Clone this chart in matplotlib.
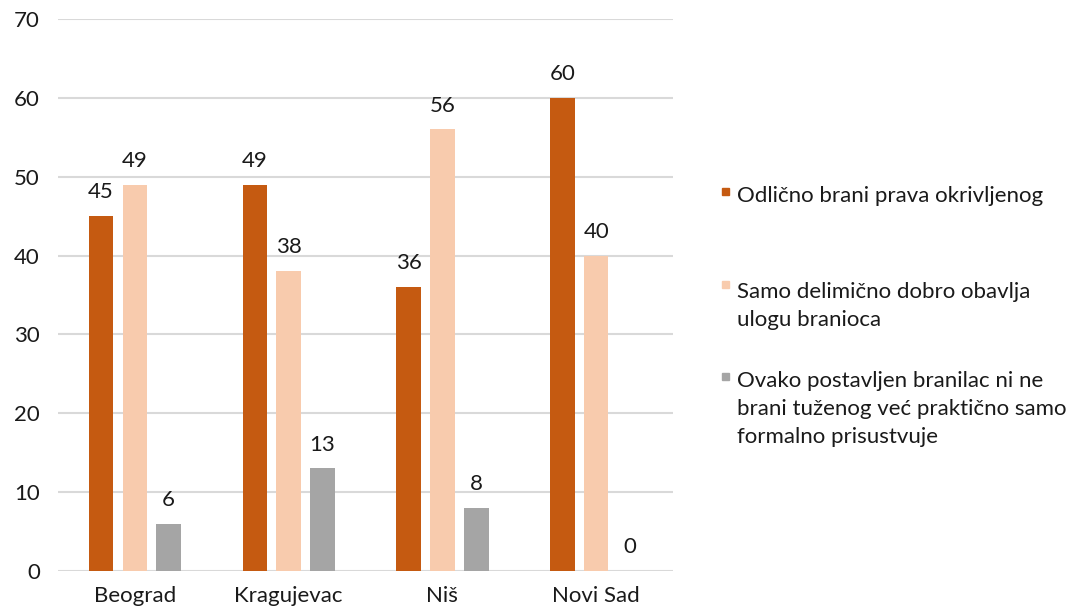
import matplotlib.pyplot as plt
from matplotlib.patches import Rectangle
import numpy as np

plt.rcParams['font.family'] = ['Lato', 'DejaVu Sans']

# data
cities = ["Beograd", "Kragujevac", "Niš", "Novi Sad"]
odlicno = [45, 49, 36, 60]
delimicno = [49, 38, 56, 40]
formalno = [6, 13, 8, 0]
series_labels = [
    "Odlično brani prava okrivljenog",
    "Samo delimično dobro obavlja\nulogu branioca",
    "Ovako postavljen branilac ni ne\nbrani tuženog već praktično samo\nformalno prisustvuje",
]
colours = ["#C55A11", "#F8CBAD", "#A5A5A5"]
yticks = [0, 10, 20, 30, 40, 50, 60, 70]

fig = plt.figure(figsize=(10.81, 6.09), dpi=100)
ax = fig.add_axes([0.0537, 0.0624, 0.5689, 0.9064])

x = np.arange(len(cities))
w = 0.16
offs = [-0.22, 0, 0.22]
for vals, off, col in zip([odlicno, delimicno, formalno], offs, colours):
    bars = ax.bar(x + off, vals, width=w, color=col, zorder=3)
    for b, v in zip(bars, vals):
        ax.annotate(str(v), (b.get_x() + b.get_width() / 2, v),
                    xytext=(0, 10), textcoords="offset points",
                    ha="center", va="bottom", fontsize=16, color="#1a1a1a")

ax.set_xlim(-0.5, len(cities) - 0.5)
ax.set_ylim(0, 70)
ax.set_yticks(yticks)
ax.set_xticks(x)
ax.set_xticklabels(cities)
ax.tick_params(axis="both", length=0, labelsize=16, colors="#1a1a1a")
ax.tick_params(axis="y", pad=13)
ax.tick_params(axis="x", pad=11)
ax.grid(axis="y", color="#d9d9d9", lw=1.5, zorder=0)
for s in ax.spines.values():
    s.set_visible(False)

# legend, placed by hand to match the uneven spacing of the original
sq_bottom = [0.680, 0.527, 0.376]
text_top = [0.6946, 0.5369, 0.3908]
for lab, col, sb, tt in zip(series_labels, colours, sq_bottom, text_top):
    fig.patches.append(Rectangle((0.668, sb), 0.0065, 0.0115,
                                 transform=fig.transFigure, color=col))
    fig.text(0.6815, tt, lab, fontsize=16, va="top", ha="left",
             color="#1a1a1a", linespacing=1.5)

fig.savefig("out.png", dpi=100)
